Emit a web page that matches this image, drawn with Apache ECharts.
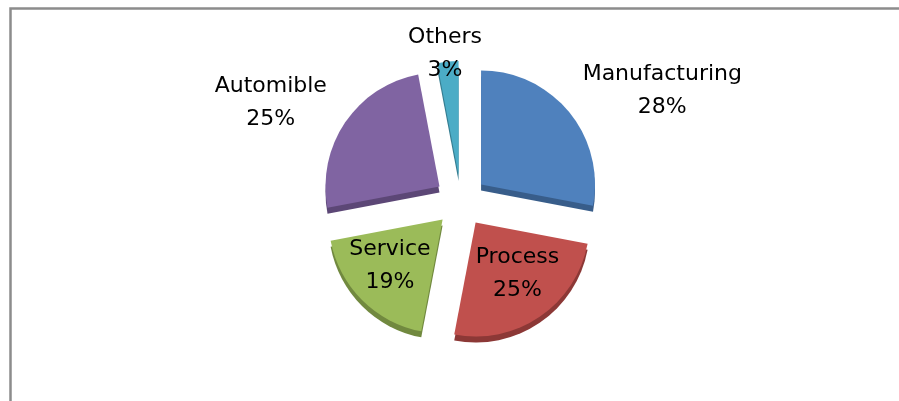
<!DOCTYPE html>
<html>
<head>
<meta charset="utf-8">
<script src="https://cdn.jsdelivr.net/npm/echarts@6/dist/echarts.min.js"></script>
<style>
html, body { margin: 0; padding: 0; background: #fff; }
#main { width: 899px; height: 401px; }
</style>
</head>
<body>
<div id="main"></div>
<script>
var myChart = echarts.init(document.getElementById('main'));

// data
var sectors = ['Manufacturing', 'Process', 'Service', 'Automible', 'Others'];
var shares = [28, 25, 19, 25, 3];

var topColors = ['#4F81BD', '#C0504D', '#9BBB59', '#8064A2', '#4BACC6'];
var sideColors = ['#385D8A', '#8C3836', '#71893F', '#5C4776', '#357D91'];

var labelFont = '22px "DejaVu Sans"';

// hidden leader line lengths that put each label where Excel had it
// (negative lengths pull the text back inside the slice)
var labelLines = {
    'Manufacturing': { length: 33, length2: -17 },
    'Process': { length: -52, length2: -40 },
    'Service': { length: -48, length2: -40 },
    'Automible': { length: 35, length2: -16 },
    'Others': { length: 8, length2: -40 }
};

var measureCtx = document.createElement('canvas').getContext('2d');
measureCtx.font = labelFont;
function textWidth(s) {
    return Math.ceil(measureCtx.measureText(s).width);
}

function buildData(colors, withLabel) {
    var out = [];
    for (var i = 0; i < sectors.length; i++) {
        var item = {
            name: sectors[i],
            value: shares[i],
            selected: true,
            itemStyle: { color: colors[i] }
        };
        if (withLabel) {
            // both lines centred inside a box as wide as the name
            var w = textWidth(sectors[i]);
            var o = labelLines[sectors[i]];
            item.label = {
                formatter: '{n|{b}}\n{n|{c}%}',
                rich: { n: { width: w, align: 'center' } }
            };
            item.labelLine = { show: false, length: o.length, length2: o.length2 };
        }
        out.push(item);
    }
    return out;
}

var pieCommon = {
    type: 'pie',
    radius: [0, 114],
    startAngle: 90,
    clockwise: true,
    selectedMode: 'multiple',
    selectedOffset: 26,
    avoidLabelOverlap: false,
    emphasis: { disabled: true },
    animation: false
};

var option = {
    backgroundColor: '#fff',
    graphic: [{
        type: 'rect',
        shape: { x: 10.5, y: 8.5, width: 1000, height: 600 },
        style: { fill: 'none', stroke: '#8c8c8c', lineWidth: 2.5 },
        silent: true
    }],
    series: [
        Object.assign({}, pieCommon, {
            name: 'side',
            center: [461, 207],
            silent: true,
            label: { show: false },
            labelLine: { show: false },
            data: buildData(sideColors, false)
        }),
        Object.assign({}, pieCommon, {
            name: 'top',
            center: [461, 201],
            label: {
                show: true,
                position: 'outside',
                color: '#000',
                fontFamily: 'DejaVu Sans',
                fontSize: 22,
                lineHeight: 33
            },
            labelLine: { show: false },
            data: buildData(topColors, true)
        })
    ]
};

myChart.setOption(option);
</script>
</body>
</html>
